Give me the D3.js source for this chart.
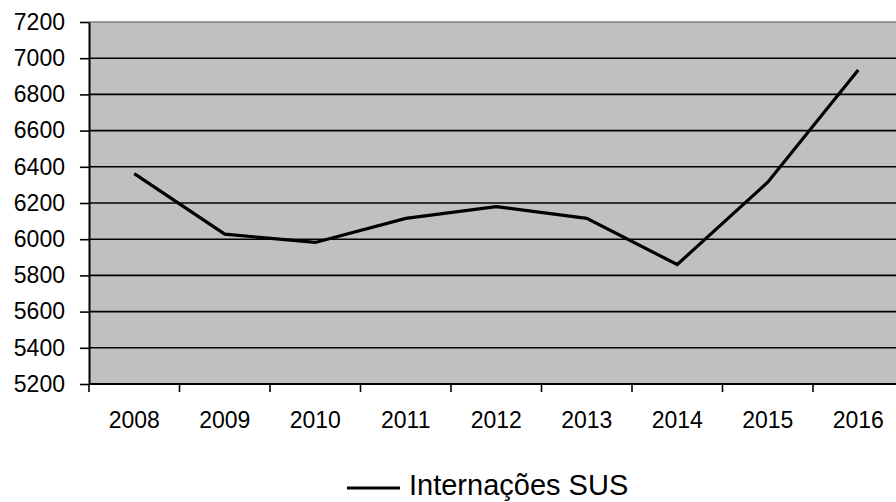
<!DOCTYPE html>
<html>
<head>
<meta charset="utf-8">
<script src="https://cdn.jsdelivr.net/npm/d3@7"></script>
<style>
  body { margin: 0; background: #fff; }
  svg { display: block; font-family: "Liberation Sans", Arial, sans-serif; }
</style>
</head>
<body>
<svg id="chart" width="896" height="502"></svg>
<script>
// data
var years = ['2008', '2009', '2010', '2011', '2012', '2013', '2014', '2015', '2016'];
var internacoes = [6362, 6028, 5982, 6115, 6180, 6115, 5860, 6315, 6935];
var yTicks = [5200, 5400, 5600, 5800, 6000, 6200, 6400, 6600, 6800, 7000, 7200];
var seriesName = 'Internações SUS';

(function () {
  var svg = d3.select('#chart'),
      plotLeft = 89, plotTop = 22, plotBottom = 384, band = 90.5, W = 896;

  var x = d3.scaleBand().domain(years).range([plotLeft, plotLeft + band * years.length]).padding(0);
  var y = d3.scaleLinear().domain([5200, 7200]).range([plotBottom, plotTop]);

  // plot area
  svg.append('rect')
    .attr('x', plotLeft).attr('y', plotTop)
    .attr('width', W - plotLeft).attr('height', plotBottom - plotTop)
    .attr('fill', '#c0c0c0');

  // gridlines
  svg.append('g').selectAll('line')
    .data(yTicks.filter(function (d) { return d > 5200 && d < 7200; }))
    .join('line')
    .attr('x1', plotLeft).attr('x2', W)
    .attr('y1', function (d) { return y(d); }).attr('y2', function (d) { return y(d); })
    .attr('stroke', '#000').attr('stroke-width', 1.6);

  // top border
  svg.append('line')
    .attr('x1', plotLeft).attr('x2', W).attr('y1', plotTop).attr('y2', plotTop)
    .attr('stroke', '#808080').attr('stroke-width', 1.6);

  // y axis
  var yAxis = svg.append('g')
    .attr('transform', 'translate(' + plotLeft + ',0)')
    .call(d3.axisLeft(y).tickValues(yTicks).tickFormat(d3.format('d'))
      .tickSize(9).tickPadding(15).tickSizeOuter(0));
  yAxis.select('.domain').attr('stroke', '#000').attr('stroke-width', 2);
  yAxis.selectAll('.tick line').attr('stroke', '#000').attr('stroke-width', 1.6);
  yAxis.selectAll('.tick text').attr('font-size', 23).attr('fill', '#000')
    .attr('font-family', '"Liberation Sans", Arial, sans-serif');

  // x axis, ticks on the band edges
  var xg = svg.append('g');
  xg.append('line')
    .attr('x1', plotLeft).attr('x2', W).attr('y1', plotBottom).attr('y2', plotBottom)
    .attr('stroke', '#000').attr('stroke-width', 2);
  xg.selectAll('line.tk')
    .data(years.concat(['end']))
    .join('line').attr('class', 'tk')
    .attr('x1', function (d, i) { return x.range()[0] + i * x.bandwidth(); })
    .attr('x2', function (d, i) { return x.range()[0] + i * x.bandwidth(); })
    .attr('y1', plotBottom).attr('y2', plotBottom + 8)
    .attr('stroke', '#000').attr('stroke-width', 1.6);
  xg.selectAll('text')
    .data(years)
    .join('text')
    .attr('x', function (d) { return x(d) + x.bandwidth() / 2; })
    .attr('y', 428)
    .attr('text-anchor', 'middle')
    .attr('font-size', 23)
    .text(function (d) { return d; });

  // the series
  var line = d3.line()
    .x(function (d, i) { return x(years[i]) + x.bandwidth() / 2; })
    .y(function (d) { return y(d); });

  svg.append('path')
    .datum(internacoes)
    .attr('d', line)
    .attr('fill', 'none')
    .attr('stroke', '#000')
    .attr('stroke-width', 3.2)
    .attr('stroke-linejoin', 'miter');

  // legend
  var lg = svg.append('g');
  lg.append('line')
    .attr('x1', 347).attr('x2', 400).attr('y1', 488).attr('y2', 488)
    .attr('stroke', '#000').attr('stroke-width', 3.2);
  lg.append('text')
    .attr('x', 409).attr('y', 495)
    .attr('font-size', 29)
    .text(seriesName);
})();
</script>
</body>
</html>
